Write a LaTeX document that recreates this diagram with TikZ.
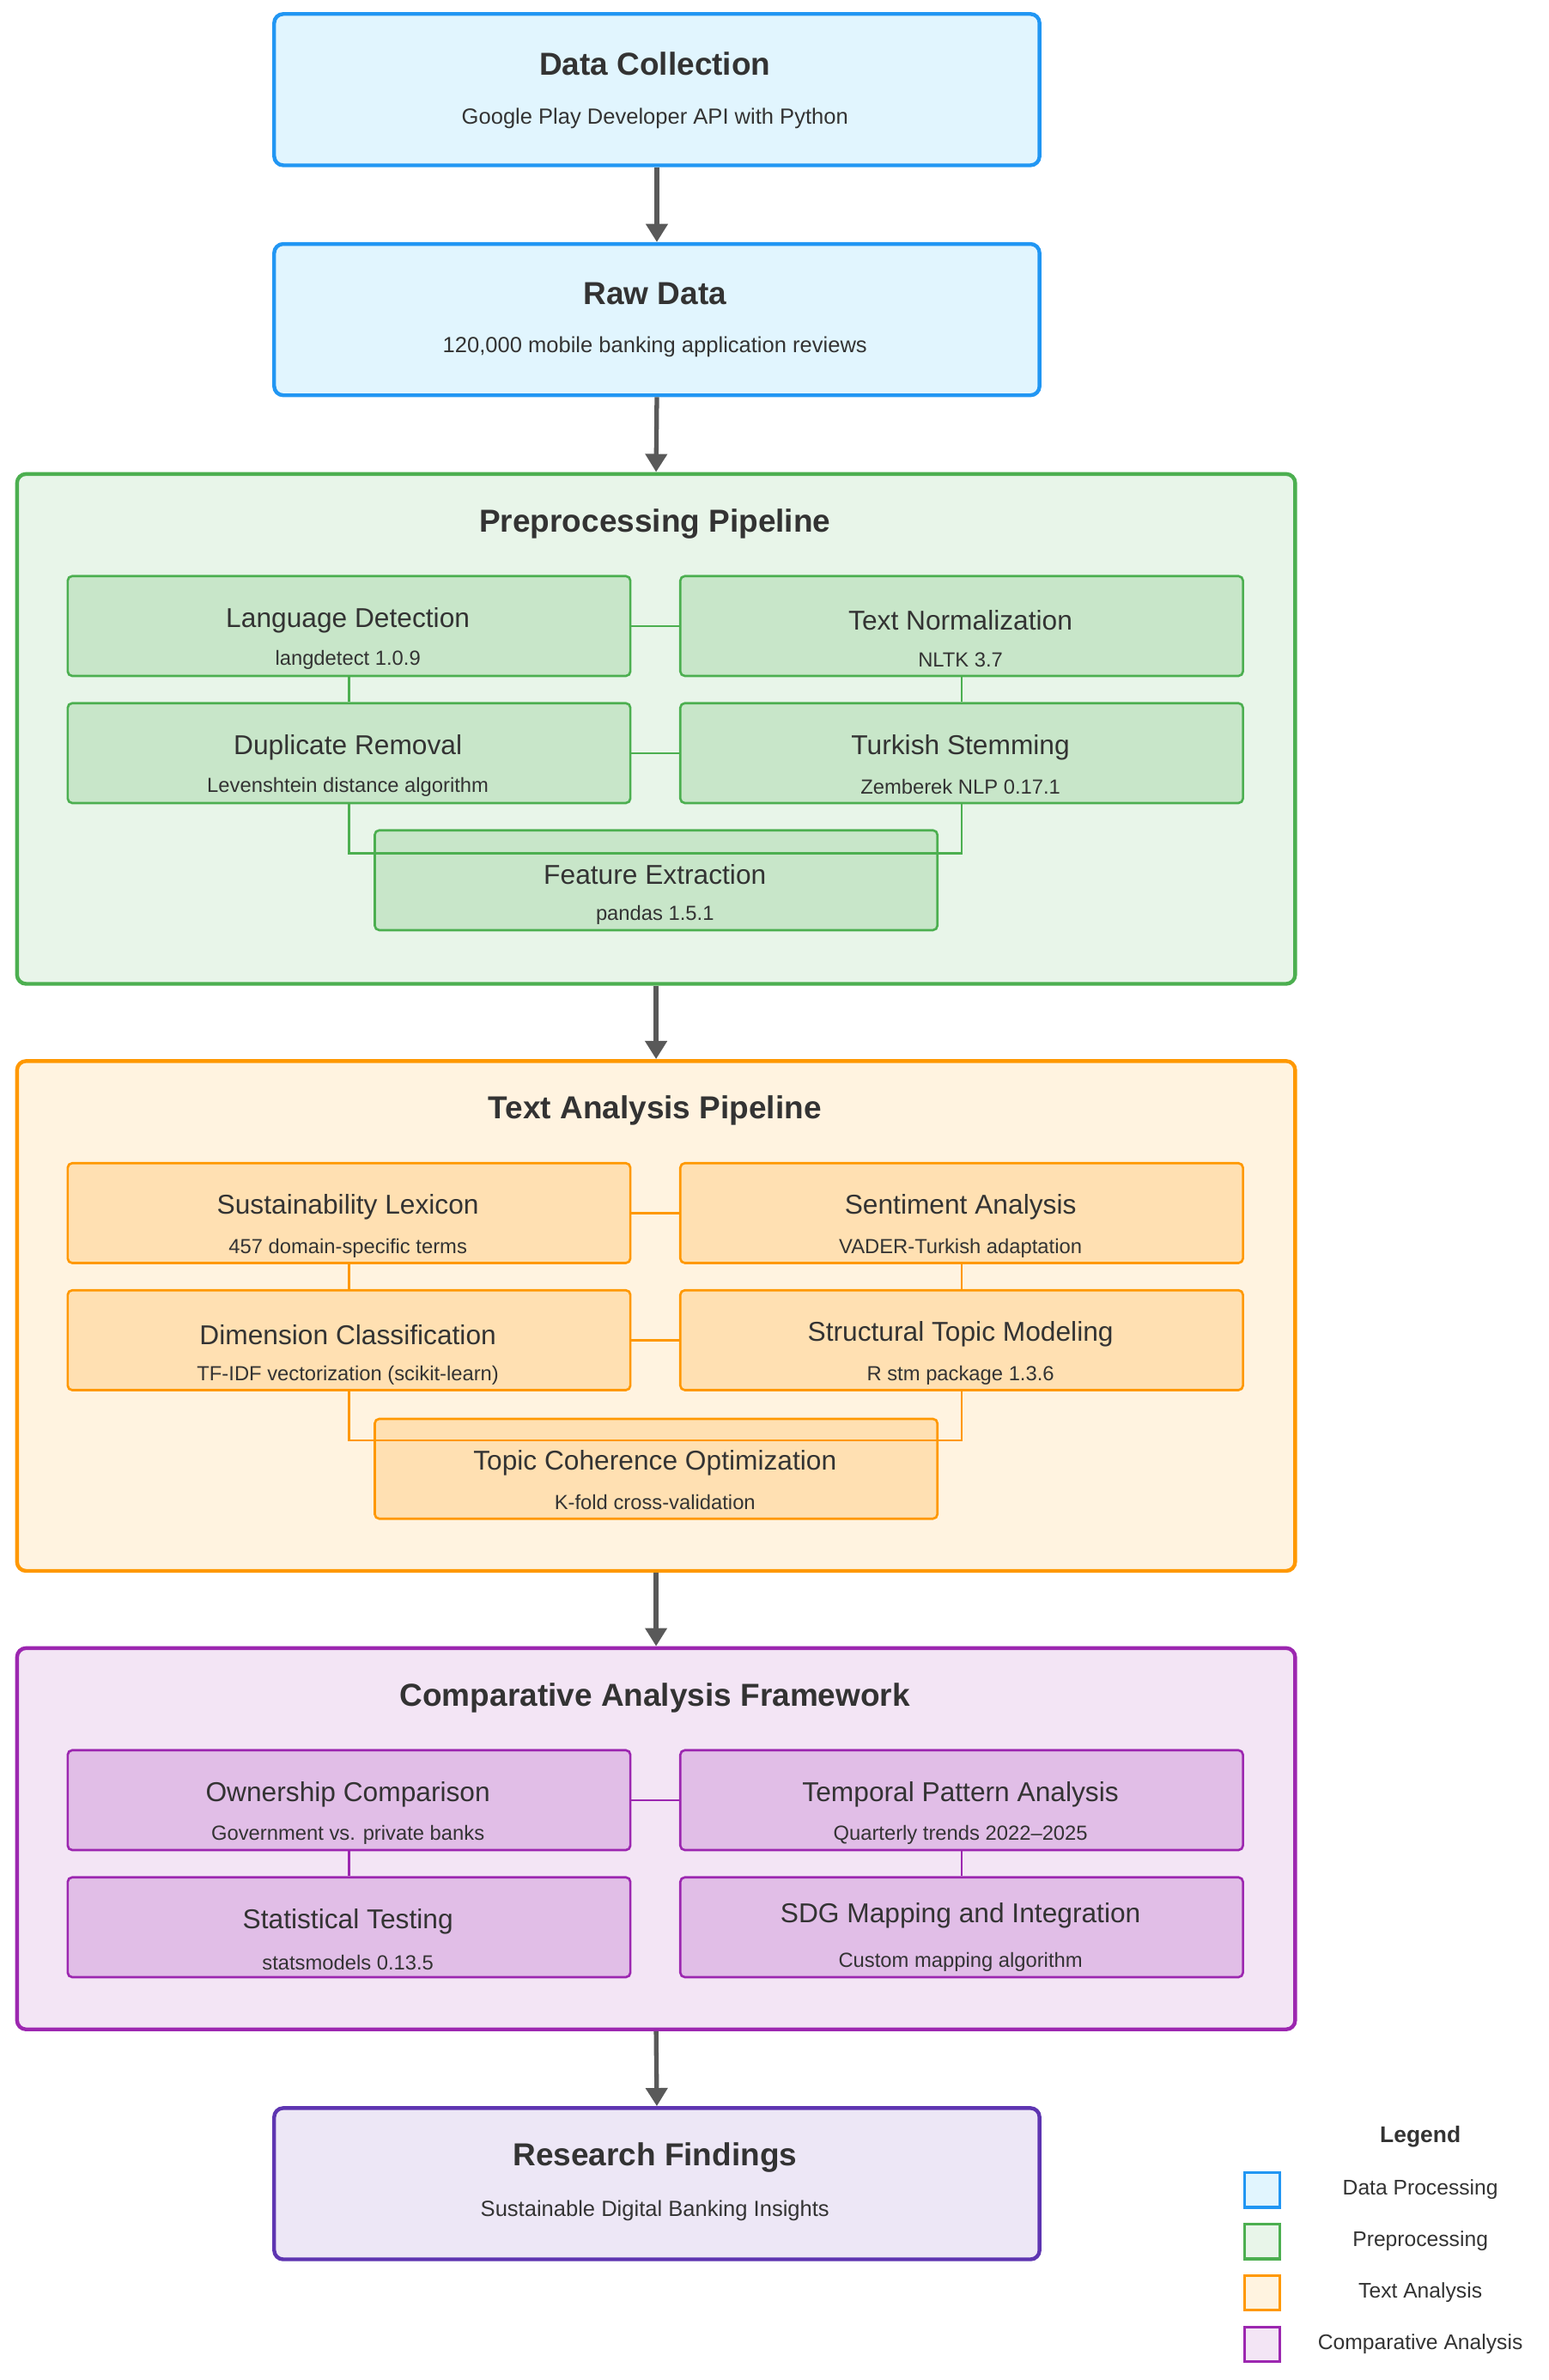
\documentclass[tikz,border=0pt]{standalone}
\usepackage{fontspec}
\setmainfont{Liberation Sans}
\usetikzlibrary{arrows.meta}
\definecolor{dpline}{HTML}{2196F3}\definecolor{dpfill}{HTML}{E1F5FE}
\definecolor{ppline}{HTML}{4CAF50}\definecolor{ppfill}{HTML}{E8F5E9}\definecolor{ppin}{HTML}{C8E6C9}
\definecolor{taline}{HTML}{FF9800}\definecolor{tafill}{HTML}{FFF3E0}\definecolor{tain}{HTML}{FFE0B2}
\definecolor{caline}{HTML}{9C27B0}\definecolor{cafill}{HTML}{F3E5F5}\definecolor{cain}{HTML}{E1BEE7}
\definecolor{rfline}{HTML}{5E35B1}\definecolor{rffill}{HTML}{EDE7F6}
\definecolor{txt}{HTML}{333333}
\begin{document}
\begin{tikzpicture}[x=1pt,y=-1pt,
  every node/.style={text=txt},
  bigbox/.style={draw,line width=2.5pt,rounded corners=6pt,minimum width=506pt,minimum height=100pt,anchor=north west},
  frame/.style={draw,line width=2.5pt,rounded corners=6pt,anchor=north west,minimum width=845pt},
  stage/.style={draw,line width=1.5pt,rounded corners=3pt,minimum width=372pt,minimum height=66pt,anchor=north west},
  head/.style={font=\bfseries\fontsize{21}{24}\selectfont},
  sub/.style={font=\fontsize{14.5}{17}\selectfont},
  stitle/.style={font=\fontsize{18}{21}\selectfont,inner sep=1pt},
  ssub/.style={font=\fontsize{13.5}{16}\selectfont},
  flow/.style={draw=black!65,line width=3pt,-{Triangle[length=12pt,width=14pt]}},
  link/.style={line width=1.5pt},
  key/.style={draw,line width=1.8pt,minimum size=23pt,anchor=north west},
  keytext/.style={font=\fontsize{14}{17}\selectfont}]
\useasboundingbox (0,0) rectangle (1024,1573);

%Data boxes
\node[bigbox,draw=dpline,fill=dpfill] (collect) at (180,8) {};
\node[head] (collecthead) at (433,42) {Data Collection};
\node[sub] (collectsub) at (433,78) {Google Play Developer API with Python};
\node[bigbox,draw=dpline,fill=dpfill] (raw) at (180,160) {};
\node[head] (rawhead) at (433,194) {Raw Data};
\node[sub] (rawsub) at (433,229) {120,000 mobile banking application reviews};

%Preprocessing
\node[frame,draw=ppline,fill=ppfill,minimum height=337pt] (prep) at (10,312) {};
\node[head] (prephead) at (433,346) {Preprocessing Pipeline};
\node[stage,draw=ppline,fill=ppin] (lang) at (44,380) {};
\node[stage,draw=ppline,fill=ppin] (norm) at (449,380) {};
\node[stage,draw=ppline,fill=ppin] (dup) at (44,464) {};
\node[stage,draw=ppline,fill=ppin] (stem) at (449,464) {};
\draw[link,ppline] (lang.east) -- (norm.west);
\draw[link,ppline] (dup.east) -- (stem.west);
\draw[link,ppline] (lang.south) -- (dup.north);
\draw[link,ppline] (norm.south) -- (stem.north);
\node[stage,draw=ppline,fill=ppin] (feat) at (247,548) {};
\draw[link,ppline] (dup.south) |- (433,564);
\draw[link,ppline] (stem.south) |- (433,564);
\node[stitle] (langt) at (230,410) {Language Detection};
\node[ssub] (langs) at (230,436) {langdetect 1.0.9};
\node[stitle] (normt) at (635,410) {Text Normalization};
\node[ssub] (norms) at (635,436) {NLTK 3.7};
\node[stitle] (dupt) at (230,494) {Duplicate Removal};
\node[ssub] (dups) at (230,520) {Levenshtein distance algorithm};
\node[stitle] (stemt) at (635,494) {Turkish Stemming};
\node[ssub] (stems) at (635,520) {Zemberek NLP 0.17.1};
\node[stitle,fill=ppin] (featt) at (433,578) {Feature Extraction};
\node[ssub] (feats) at (433,605) {pandas 1.5.1};

%Text analysis
\node[frame,draw=taline,fill=tafill,minimum height=337pt] (text) at (10,700) {};
\node[head] (texthead) at (433,734) {Text Analysis Pipeline};
\node[stage,draw=taline,fill=tain] (lex) at (44,768) {};
\node[stage,draw=taline,fill=tain] (sent) at (449,768) {};
\node[stage,draw=taline,fill=tain] (dim) at (44,852) {};
\node[stage,draw=taline,fill=tain] (stm) at (449,852) {};
\draw[link,taline] (lex.east) -- (sent.west);
\draw[link,taline] (dim.east) -- (stm.west);
\draw[link,taline] (lex.south) -- (dim.north);
\draw[link,taline] (sent.south) -- (stm.north);
\node[stage,draw=taline,fill=tain] (coh) at (247,937) {};
\draw[link,taline] (dim.south) |- (433,952);
\draw[link,taline] (stm.south) |- (433,952);
\node[stitle] (lext) at (230,798) {Sustainability Lexicon};
\node[ssub] (lexs) at (230,825) {457 domain-specific terms};
\node[stitle] (sentt) at (635,798) {Sentiment Analysis};
\node[ssub] (sents) at (635,825) {VADER-Turkish adaptation};
\node[stitle] (dimt) at (230,882) {Dimension Classification};
\node[ssub] (dims) at (230,909) {TF-IDF vectorization (scikit-learn)};
\node[stitle] (stmt) at (635,882) {Structural Topic Modeling};
\node[ssub] (stms) at (635,909) {R stm package 1.3.6};
\node[stitle,fill=tain] (coht) at (433,967) {Topic Coherence Optimization};
\node[ssub] (cohs) at (433,993) {K-fold cross-validation};

%Comparative analysis
\node[frame,draw=caline,fill=cafill,minimum height=252pt] (comp) at (10,1088) {};
\node[head] (comphead) at (433,1122) {Comparative Analysis Framework};
\node[stage,draw=caline,fill=cain] (own) at (44,1156) {};
\node[stage,draw=caline,fill=cain] (temp) at (449,1156) {};
\node[stage,draw=caline,fill=cain] (stat) at (44,1240) {};
\node[stage,draw=caline,fill=cain] (sdg) at (449,1240) {};
\draw[link,caline] (own.east) -- (temp.west);
\draw[link,caline] (own.south) -- (stat.north);
\draw[link,caline] (temp.south) -- (sdg.north);
\node[stitle] (ownt) at (230,1186) {Ownership Comparison};
\node[ssub] (owns) at (230,1213) {Government vs. private banks};
\node[stitle] (tempt) at (635,1186) {Temporal Pattern Analysis};
\node[ssub] (temps) at (635,1213) {Quarterly trends 2022--2025};
\node[stitle] (statt) at (230,1270) {Statistical Testing};
\node[ssub] (stats) at (230,1297) {statsmodels 0.13.5};
\node[stitle] (sdgt) at (635,1266) {SDG Mapping and Integration};
\node[ssub] (sdgs) at (635,1297) {Custom mapping algorithm};

%Findings
\node[bigbox,draw=rfline,fill=rffill] (find) at (180,1392) {};
\node[head] (findhead) at (433,1426) {Research Findings};
\node[sub] (findsub) at (433,1461) {Sustainable Digital Banking Insights};

%Flow arrows
\draw[flow] (collect.south) -- (raw.north);
\draw[flow] (raw.south) -- (prep.north);
\draw[flow] (prep.south) -- (text.north);
\draw[flow] (text.south) -- (comp.north);
\draw[flow] (comp.south) -- (find.north);

%Legend
\node[font=\bfseries\fontsize{15}{18}\selectfont] (legend) at (939,1412) {Legend};
\node[key,draw=dpline,fill=dpfill] (k1) at (822,1435) {};
\node[key,draw=ppline,fill=ppfill] (k2) at (822,1469) {};
\node[key,draw=taline,fill=tafill] (k3) at (822,1503) {};
\node[key,draw=caline,fill=cafill] (k4) at (822,1537) {};
\node[keytext] (k1t) at (939,1447) {Data Processing};
\node[keytext] (k2t) at (939,1481) {Preprocessing};
\node[keytext] (k3t) at (939,1515) {Text Analysis};
\node[keytext] (k4t) at (939,1549) {Comparative Analysis};
\end{tikzpicture}
\end{document}
